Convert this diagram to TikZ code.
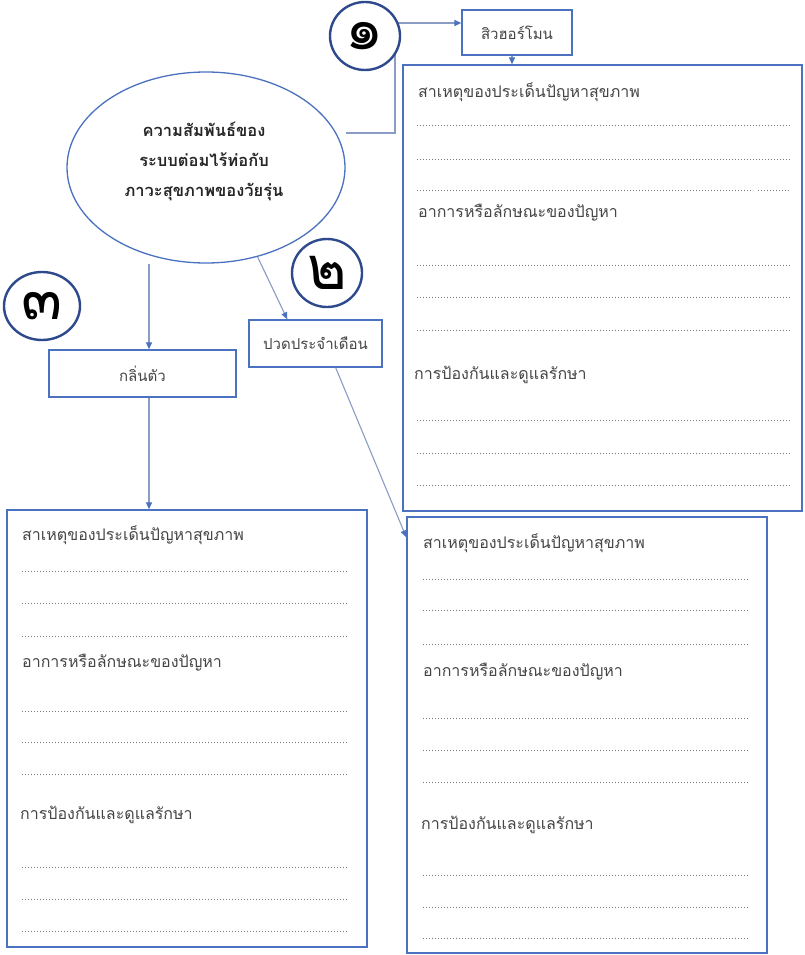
\documentclass[tikz,border=0pt]{standalone}
\usepackage{fontspec}
\newfontfamily\thai[Script=Thai]{Loma}
\usetikzlibrary{calc,shapes.geometric,arrows.meta}
\definecolor{boxblue}{HTML}{4A72C0}
\definecolor{navy}{HTML}{2E4A8C}
\definecolor{linkgray}{HTML}{8A9CC4}
\definecolor{txtgray}{HTML}{454545}
\definecolor{dotgray}{HTML}{7A7A7A}
\tikzset{
  labelbox/.style={draw=boxblue, line width=1.3pt, fill=white, inner sep=0pt,
     font=\thai\fontsize{15}{17}\selectfont, text=txtgray},
  bigbox/.style={draw=boxblue, line width=1.3pt, inner sep=0pt},
  numcircle/.style={ellipse, draw=navy, line width=2.4pt, fill=white, inner sep=0pt,
     font=\thai\fontsize{60}{60}\selectfont, text=black},
  head/.style={anchor=west, inner sep=0pt, font=\thai\fontsize{16}{19}\selectfont, text=txtgray},
  dotline/.style={draw=dotgray, line width=1pt, dash pattern=on 1pt off 2pt},
  link/.style={draw=linkgray, line width=1.1pt, -{Triangle[length=7pt,width=6pt,color=boxblue]}},
}
\begin{document}
\begin{tikzpicture}[x=1pt,y=1pt]
\useasboundingbox[fill=white] (0,0) rectangle (804,-955);

% main ellipse
\node[ellipse, draw=boxblue, line width=1.3pt, minimum width=278pt, minimum height=191pt, inner sep=0pt] (ell) at (206,-167.5) {};
\node[align=center, inner sep=0pt, font=\thai\bfseries\fontsize{16.5}{30}\selectfont, text=black!85] (et) at (204,-161)
  {ความสัมพันธ์ของ\\ระบบต่อมไร้ท่อกับ\\ภาวะสุขภาพของวัยรุ่น};

% label boxes
\node[labelbox, minimum width=110pt, minimum height=45pt] (sh) at (517,-32.5) {สิวฮอร์โมน};
\node[labelbox, minimum width=133pt, minimum height=47pt] (pd) at (315.5,-343.5) {ปวดประจำเดือน};
\node[labelbox, minimum width=187pt, minimum height=47pt] (gl) at (142.5,-373.5) {กลิ่นตัว};

% big boxes
\node[bigbox, minimum width=399pt, minimum height=446pt] (tr) at (602.5,-288) {};
\node[bigbox, minimum width=360pt, minimum height=437pt] (lb) at (187,-728.5) {};
\node[bigbox, minimum width=360pt, minimum height=436pt] (rb) at (587,-735) {};

% connectors
\coordinate (k1) at (395,-133);
\coordinate (k2) at (395,-23);
\draw[link] (ell.east |- k1) -- (k1) -- (k2) -- (k2 -| sh.west);
\coordinate (shs) at ($(sh.south)+(-5,0)$);
\draw[link] (shs) -- (shs |- tr.north);
\coordinate (glx) at (149,0);
\draw[link] (ell.south -| glx) -- (glx |- gl.north);
\coordinate (gls) at ($(gl.south)+(6.5,0)$);
\draw[link] (gls) -- (gls |- lb.north);
\draw[link] (ell.-60) -- ($(pd.north west)!0.29!(pd.north east)$);
\draw[link] ($(pd.south west)!0.65!(pd.south east)$) -- ($(rb.north west)!0.048!(rb.south west)$);

% numbered circles
\node[numcircle, minimum width=70pt, minimum height=68pt] (c1) at (365,-36) {๑};
\node[numcircle, minimum width=70pt, minimum height=68pt] (c2) at (327,-273) {๒};
\node[numcircle, minimum width=76pt, minimum height=68pt] (c3) at (42,-306) {๓};

% top-right box contents
\node[head] (tr1) at (418,-92) {สาเหตุของประเด็นปัญหาสุขภาพ};
\node[head] (tr2) at (418,-213) {อาการหรือลักษณะของปัญหา};
\node[head] (tr3) at (414,-375) {การป้องกันและดูแลรักษา};
\foreach \y in {126,159} \draw[dotline] (417,-\y) -- (790,-\y);
\draw[dotline] (417,-190) -- (753,-190);
\draw[dotline] (758,-190) -- (790,-190);
\foreach \y in {265,297,330,420,453,485} \draw[dotline] (417,-\y) -- (790,-\y);

% left-bottom box contents
\node[head] (lb1) at (22,-535) {สาเหตุของประเด็นปัญหาสุขภาพ};
\node[head] (lb2) at (22,-663) {อาการหรือลักษณะของปัญหา};
\node[head] (lb3) at (20,-815) {การป้องกันและดูแลรักษา};
\foreach \y in {571,603,636,711,742,774,867,899,931} \draw[dotline] (22,-\y) -- (347,-\y);

% right-bottom box contents
\node[head] (rb1) at (423,-543) {สาเหตุของประเด็นปัญหาสุขภาพ};
\node[head] (rb2) at (423,-672) {อาการหรือลักษณะของปัญหา};
\node[head] (rb3) at (421,-825) {การป้องกันและดูแลรักษา};
\foreach \y in {579,610,644,718,750,782,875,907,938} \draw[dotline] (423,-\y) -- (748,-\y);
\end{tikzpicture}
\end{document}
